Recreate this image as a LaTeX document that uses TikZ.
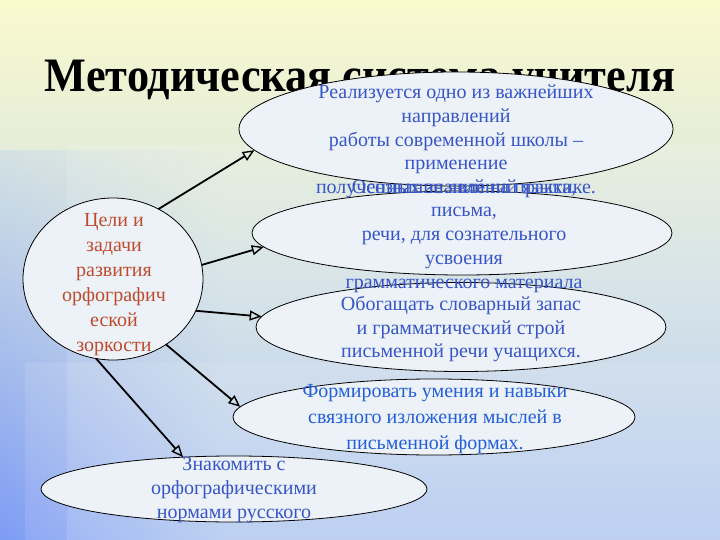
\documentclass[tikz,border=0pt]{standalone}
\usepackage{fontspec}
\setmainfont{Liberation Serif}
\usetikzlibrary{shapes.geometric, arrows.meta, fadings}
\definecolor{txtblue}{RGB}{55,85,200}
\definecolor{txtblue2}{RGB}{35,95,215}
\definecolor{txtred}{RGB}{190,75,45}
\definecolor{ellfill}{RGB}{236,242,248}
\definecolor{bgtop}{RGB}{250,250,205}
\definecolor{bgmid}{RGB}{212,226,228}
\definecolor{bgbot}{RGB}{172,196,240}
\definecolor{bgleft}{RGB}{125,155,245}
\tikzfading[name=fadeleft, left color=transparent!0, right color=transparent!100]
\begin{document}
\begin{tikzpicture}[x=1pt,y=-1pt,
  oval/.style={ellipse, draw=black, line width=0.8pt, fill=ellfill, inner sep=0pt, outer sep=0pt},
  body/.style={align=center, text=txtblue, font=\fontsize{20}{23.8}\selectfont, inner sep=0pt},
  link/.style={line width=1.8pt, -{Triangle[open, length=12pt, width=10pt, line width=1.4pt]}}
]
\useasboundingbox (0,0) rectangle (720,540);
% background
\shade[top color=bgtop, bottom color=bgmid] (0,0) rectangle (720,270);
\shade[top color=bgmid, bottom color=bgbot] (0,270) rectangle (720,540);
\shade[top color=bgmid, bottom color=bgleft, path fading=fadeleft] (0,150) rectangle (220,540);
\fill[white, opacity=0.12] (67,145) rectangle (720,540);
\fill[white, opacity=0.10] (25,363) rectangle (720,540);
% title
\node[anchor=base, inner sep=0pt, font=\fontsize{48}{54}\selectfont\bfseries] (title) at (360,92)
  {\resizebox{630pt}{\height}{Методическая система учителя}};
% ovals
\node[oval, minimum width=180pt, minimum height=162pt] (c) at (113,279) {};
\node[oval, minimum width=434pt, minimum height=114pt] (e1) at (456,129) {};
\node[oval, minimum width=420pt, minimum height=84pt] (e2) at (462,233) {};
\node[oval, minimum width=410pt, minimum height=89pt] (e3) at (461,327) {};
\node[oval, minimum width=402pt, minimum height=76pt] (e4) at (434,417) {};
\node[oval, minimum width=386pt, minimum height=66pt] (e5) at (234,489) {};
% texts
\node[body] (t1) at (456,141.5) {Реализуется одно из важнейших\\направлений\\работы современной школы –\\применение\\полученных знаний на практике.};
\node[body] (t2) at (464,236) {Осознание явлений языка,\\письма,\\речи, для сознательного\\усвоения\\грамматического материала};
\node[body] (t3) at (461,329) {Обогащать словарный запас\\и грамматический строй\\письменной речи учащихся.};
\node[body, text=txtblue2, font=\fontsize{20}{26}\selectfont] (t4) at (435,419) {Формировать умения и навыки\\связного изложения мыслей в\\письменной формах.};
\node[body] (t5) at (234,490) {Знакомить с\\орфографическими\\нормами русского};
\node[body, text=txtred, font=\fontsize{20}{25}\selectfont] (tc) at (114,285) {Цели и\\задачи\\развития\\орфографич\\еской\\зоркости};
% arrows
\draw[link] (c.57) -- (e1.186);
\draw[link] (c.9) -- (e2.184);
\draw[link] (c.-21) -- (e3.177);
\draw[link] (c.-51) -- (e4.177);
\draw[link] (c.-102) -- (e5.148);
\end{tikzpicture}
\end{document}
